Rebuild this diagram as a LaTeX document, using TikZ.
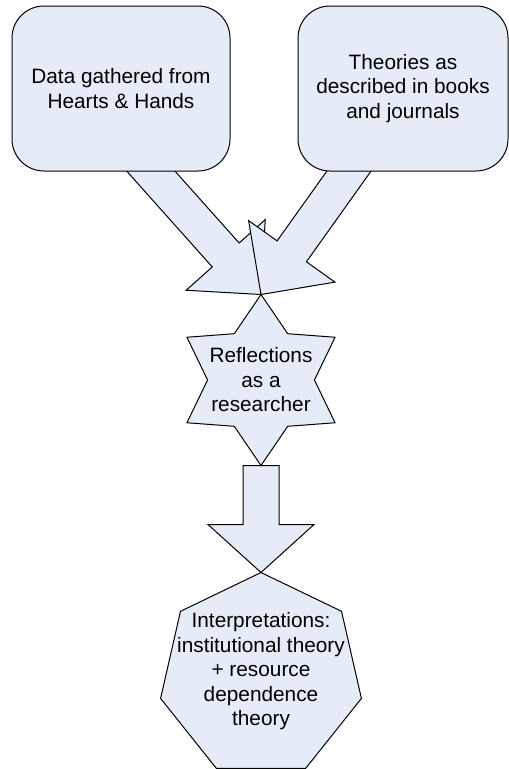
\documentclass[tikz,border=0pt]{standalone}
\usepackage{fontspec}
\setmainfont{Liberation Sans}
\usepackage{tikz}
\usetikzlibrary{shapes.geometric,positioning,calc,backgrounds}

\definecolor{boxfill}{HTML}{E6ECF7}

% block arrow: start, tip, head length
\newcommand{\blockarrow}[3]{
	\coordinate (head) at ($(#2)!#3!(#1)$);
	\filldraw[shapefill] ($(#1)!18pt!90:(#2)$) -- ($(head)!18pt!90:(#2)$) -- ($(head)!53pt!90:(#2)$) -- (#2)
		-- ($(head)!53pt!-90:(#2)$) -- ($(head)!18pt!-90:(#2)$) -- ($(#1)!18pt!-90:(#2)$) -- cycle;
}

\begin{document}
\begin{tikzpicture}
	[
		x=1pt, y=-1pt,
		every node/.style={font=\fontsize{20.8}{24.5}\selectfont, align=center, inner sep=0pt, outer sep=0pt},
		shapefill/.style={draw=black, fill=boxfill, line width=1pt, line join=miter},
		sourcebox/.style={shapefill, rounded corners=32pt, minimum width=218pt, minimum height=165pt},
		starshape/.style={shapefill, star, star points=6, star point ratio=1.6, minimum size=171pt},
		heptshape/.style={shapefill, regular polygon, regular polygon sides=7, minimum size=206pt}
	]
	\useasboundingbox (0,0) rectangle (509,769);

	\node(data) [sourcebox] at (121,88.5) {Data gathered from\\Hearts \& Hands};
	\node(theory) [sourcebox, minimum width=210pt] at (403,88.5) {Theories as\\described in books\\and journals};

	\node(refl) [starshape] at (261,380) {};
	\node(refltxt) at (refl) {Reflections\\as a\\researcher};

	\node(interp) [heptshape, below = 107pt of refl] {};
	\node(interptxt) [yshift=4pt] at (interp) {Interpretations:\\institutional theory\\+ resource\\dependence\\theory};

	% arrows behind the shapes
	\begin{pgfonlayer}{background}
		\coordinate(datastart) at ([shift={(11,-21)}]data.south);
		\coordinate(theorystart) at ([shift={(-39,-21)}]theory.south);
		\blockarrow{datastart}{refl.north}{53pt}
		\blockarrow{theorystart}{refl.north}{53pt}
		\blockarrow{refl.south}{interp.north}{48pt}
	\end{pgfonlayer}
\end{tikzpicture}
\end{document}
